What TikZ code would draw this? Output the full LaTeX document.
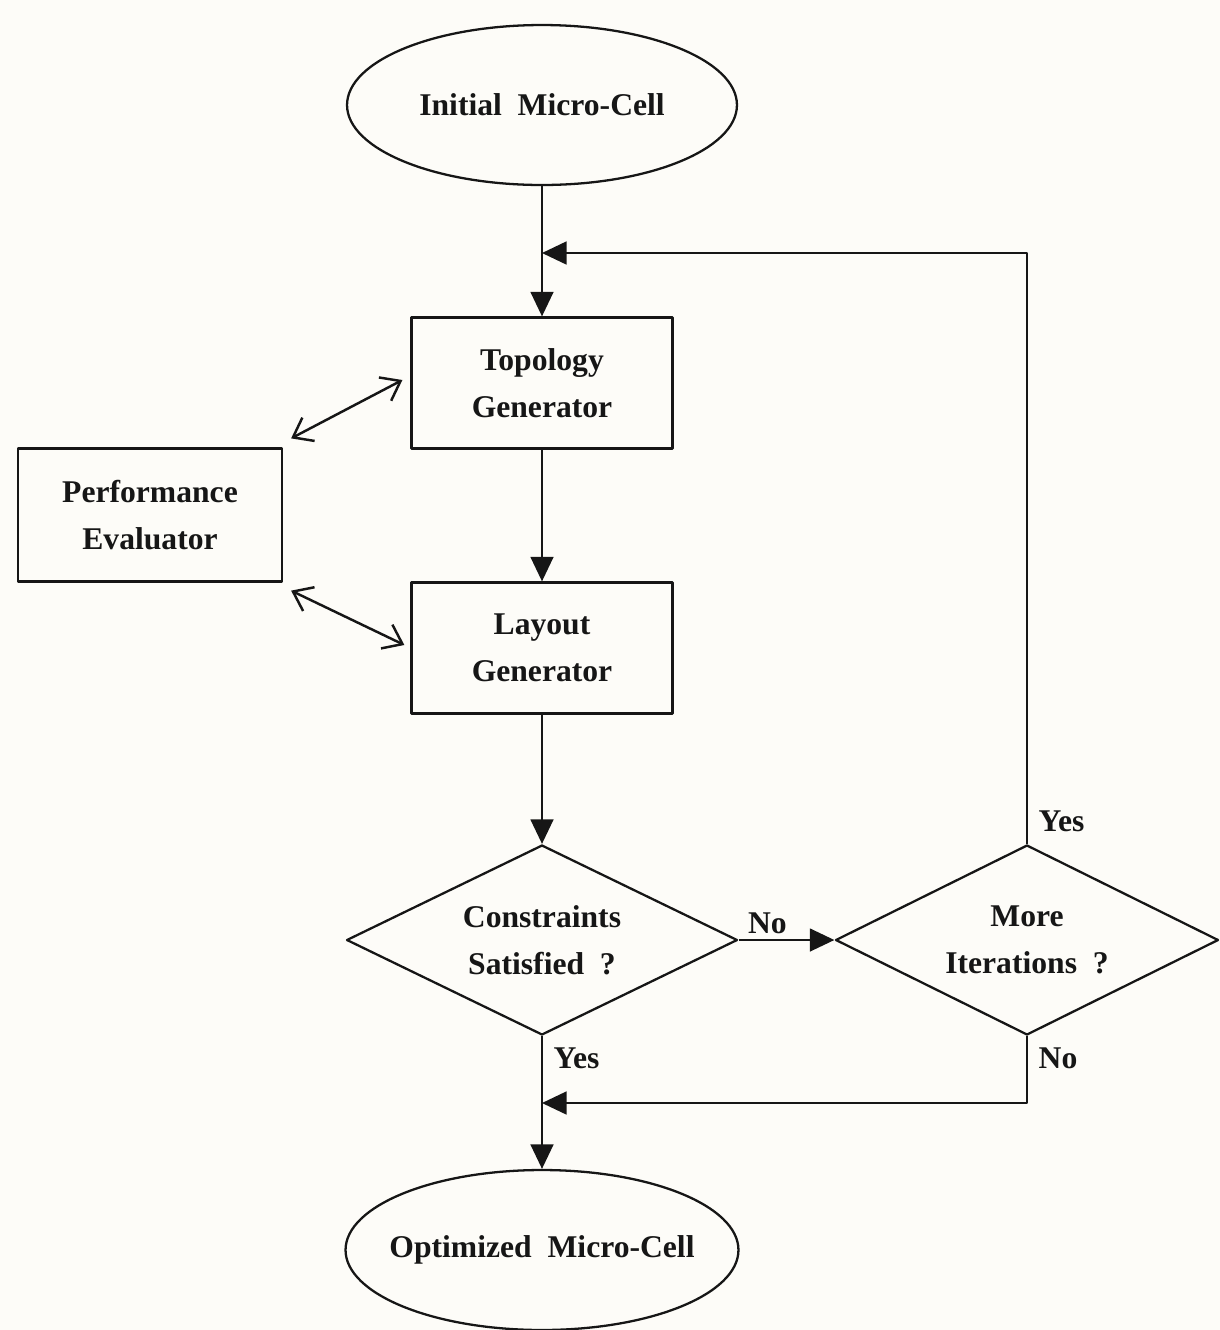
\documentclass[tikz,border=0pt]{standalone}
\usepackage{fontspec}
\setmainfont{Liberation Serif}
\usepackage{xcolor}
\usetikzlibrary{arrows.meta,positioning,shapes.geometric,calc}
\definecolor{paper}{RGB}{253,252,248}
\definecolor{ink}{RGB}{22,22,22}

\tikzset{
  txt/.style={font=\fontsize{18}{27}\selectfont\bfseries,text=ink,align=center},
  process/.style={txt,draw=ink,line width=1.3pt,rectangle,minimum width=5.22cm,minimum height=2.62cm,inner sep=2pt},
  terminal/.style={txt,draw=ink,line width=1.3pt,ellipse,minimum width=7.8cm,minimum height=3.2cm,inner xsep=-0.6cm,inner ysep=0pt},
  decision/.style={txt,draw=ink,line width=1.3pt,diamond,shape aspect=2,minimum width=7.82cm,minimum height=3.8cm,inner sep=1pt},
  flow/.style={draw=ink,line width=1.3pt,-{Triangle[length=14pt,width=13pt]}},
  link/.style={draw=ink,line width=1.4pt,{Straight Barb[length=10pt,width=15pt,line width=1.4pt]}-{Straight Barb[length=10pt,width=15pt,line width=1.4pt]}},
  lbl/.style={txt,inner sep=6pt}
}

\begin{document}
\begin{tikzpicture}[x=0.02cm,y=-0.02cm,line join=round]
  % --- page: 1220 x 1330 px grid, origin top left ---
  \fill[paper] (0,0) rectangle (1220,1330);
  \useasboundingbox (0,0) rectangle (1220,1330);

  % --- main column ---
  \node[terminal] (init) at (542,105) {Initial\ \ Micro-Cell};
  \node[process] (topo) at (542,383) {Topology\\Generator};
  \node[process] (layout) at (542,648) {Layout\\Generator};
  \node[decision] (cons) at (542,940) {Constraints\\Satisfied\ \ ?};
  \node[terminal,minimum width=7.86cm] (opt) at (542,1250) {Optimized\ \ Micro-Cell};
  % side blocks
  \node[process,minimum width=5.28cm,minimum height=2.66cm] (perf) at (150,515) {Performance\\Evaluator};
  \node[decision,minimum width=7.66cm] (more) at (1027,940) {More\\Iterations\ \ ?};
  % joins on the main line
  \coordinate (loop) at (542,253);
  \coordinate (merge) at (542,1103);

  % --- connectors ---
  \draw[flow] (init) -- (topo);
  \draw[flow] (topo) -- (layout);
  \draw[flow] (layout) -- (cons);
  \draw[flow] (cons) -- node[lbl,above,pos=0.3,inner sep=3pt] {No} (more);
  \draw[flow] (cons.south) node[lbl,below right] {Yes} -- (opt);
  \draw[flow] (more.north) node[lbl,above right] {Yes} |- (loop);
  \draw[flow] (more.south) node[lbl,below right] {No} |- (merge);
  % evaluator talks to both generators
  \draw[link] ([shift={(8,-9)}]perf.north east) -- ([shift={(-8,-3)}]topo.west);
  \draw[link] ([shift={(8,8)}]perf.south east) -- ([shift={(-6,-3)}]layout.west);
\end{tikzpicture}
\end{document}
